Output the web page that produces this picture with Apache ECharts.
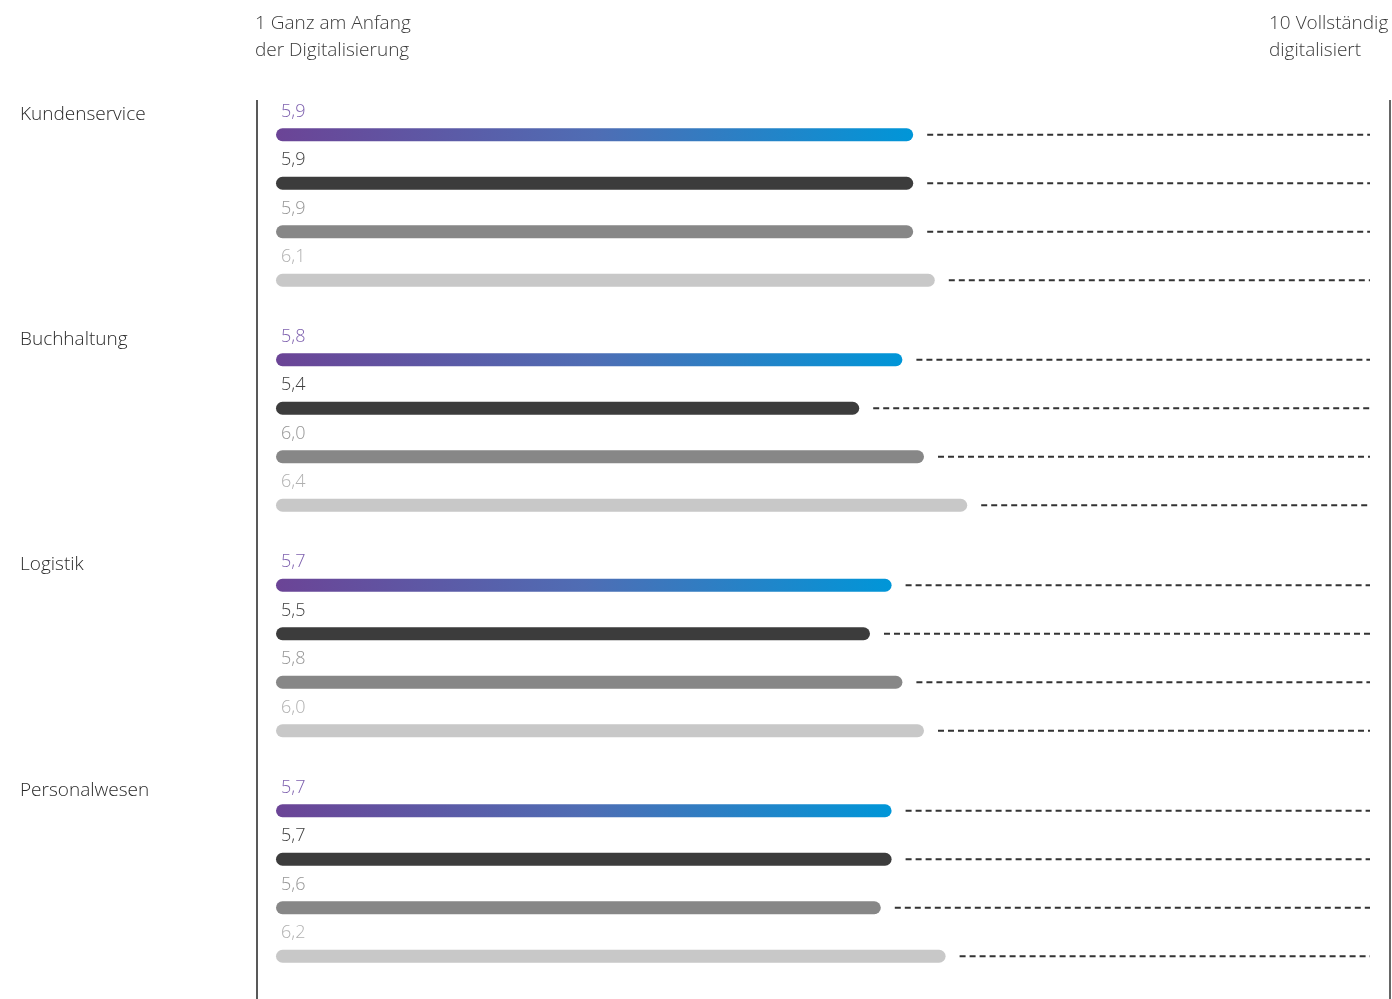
<!DOCTYPE html>
<html>
<head>
<meta charset="utf-8">
<script src="https://cdn.jsdelivr.net/npm/echarts@6/dist/echarts.min.js"></script>
<style>
  html, body { margin: 0; padding: 0; background: #fff; }
  #chart { width: 1392px; height: 999px; }
</style>
</head>
<body>
<div id="chart"></div>
<script>
// Digitalisation level per department (scale 1–10), four bars per department
const departments = ['Kundenservice', 'Buchhaltung', 'Logistik', 'Personalwesen'];
const rowA = [5.9, 5.8, 5.7, 5.7];   // gradient bar
const rowB = [5.9, 5.4, 5.5, 5.7];   // dark grey
const rowC = [5.9, 6.0, 5.8, 5.6];   // mid grey
const rowD = [6.1, 6.4, 6.0, 6.2];   // light grey
const scaleStart = '1 Ganz am Anfang\nder Digitalisierung';
const scaleEnd = '10 Vollständig\ndigitalisiert';
const scaleMax = 10;

const FONT = '"Open Sans", "Noto Sans", sans-serif';
const gridTops = [110.5, 335.5, 561, 786.5];
const gridHeight = 194;

const barColors = [
  new echarts.graphic.LinearGradient(0, 0, 1, 0, [
    { offset: 0, color: '#6b4496' },
    { offset: 0.5, color: '#4f6db4' },
    { offset: 1, color: '#0096d8' }
  ]),
  '#3c3c3c',
  '#878787',
  '#c8c8c8'
];
const labelColors = ['#7d5fae', '#404040', '#959595', '#b0b0b0'];
const rows = [rowA, rowB, rowC, rowD];

const fmt = v => v.toFixed(1).replace('.', ',');

const grids = [], xAxes = [], yAxes = [], series = [], titles = [];

departments.forEach((dep, g) => {
  grids.push({ left: 276, right: 36, top: gridTops[g], height: gridHeight });
  xAxes.push({
    gridIndex: g, type: 'value', min: 0, max: scaleMax,
    show: false
  });
  yAxes.push({
    gridIndex: g, type: 'category', inverse: true,
    data: ['A', 'B', 'C', 'D'],
    show: false
  });
  const vals = rows.map(r => r[g]);
  series.push({
    type: 'bar',
    xAxisIndex: g, yAxisIndex: g,
    barWidth: 13,
    data: vals.map((v, i) => ({
      value: v,
      itemStyle: { color: barColors[i], borderRadius: 6.5 },
      label: { color: labelColors[i] }
    })),
    label: {
      show: true,
      position: 'insideLeft',
      distance: 5,
      offset: [0, -23],
      fontFamily: FONT,
      fontWeight: 300,
      fontSize: 18,
      formatter: p => fmt(p.value)
    },
    silent: true
  });
  // dashed remainder up to the end of the scale
  series.push({
    type: 'custom',
    xAxisIndex: g, yAxisIndex: g,
    data: vals.map((v, i) => [v, i]),
    renderItem: (params, api) => {
      const a = api.coord([api.value(0), api.value(1)]);
      const b = api.coord([scaleMax, api.value(1)]);
      return {
        type: 'line',
        shape: { x1: a[0] + 14, y1: a[1], x2: b[0] + 14, y2: b[1] },
        style: { stroke: '#333', lineWidth: 1.8, lineDash: [6, 4] }
      };
    },
    silent: true
  });
  titles.push({
    text: dep, left: 20, top: gridTops[g] - 8, padding: 0,
    textStyle: { fontFamily: FONT, fontWeight: 300, fontSize: 19, color: '#2a2a2a', lineHeight: 24 }
  });
});

titles.push({
  text: scaleStart, left: 255, top: 10, padding: 0,
  textStyle: { fontFamily: FONT, fontWeight: 300, fontSize: 19, color: '#3a3a3a', lineHeight: 27 }
});
titles.push({
  text: scaleEnd, left: 1269, top: 10, padding: 0,
  textStyle: { fontFamily: FONT, fontWeight: 300, fontSize: 19, color: '#3a3a3a', lineHeight: 27 }
});

const chart = echarts.init(document.getElementById('chart'));
chart.setOption({
  animation: false,
  backgroundColor: '#fff',
  title: titles,
  grid: grids,
  xAxis: xAxes,
  yAxis: yAxes,
  series: series,
  graphic: [
    { type: 'line', shape: { x1: 257, y1: 100, x2: 257, y2: 999 }, style: { stroke: '#222', lineWidth: 1.5 } },
    { type: 'line', shape: { x1: 1390, y1: 100, x2: 1390, y2: 999 }, style: { stroke: '#666', lineWidth: 2 } }
  ]
});
</script>
</body>
</html>
